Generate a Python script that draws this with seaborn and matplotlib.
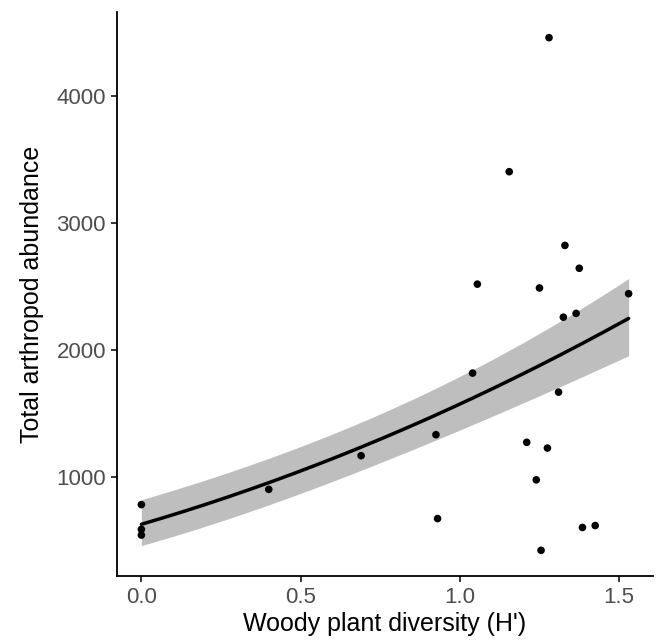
import numpy as np
import pandas as pd
import matplotlib
matplotlib.use("Agg")
import matplotlib.pyplot as plt
import seaborn as sns

# observed sites: woody plant diversity vs arthropod counts
diversity = [0.0, 0.0, 0.0, 0.40, 0.69, 0.925, 0.93, 1.04, 1.055, 1.155, 1.21, 1.24,
             1.25, 1.255, 1.275, 1.28, 1.31, 1.325, 1.33, 1.365, 1.375, 1.385, 1.425, 1.53]
abundance = [785, 590, 545, 905, 1170, 1335, 675, 1820, 2520, 3405, 1275, 980,
             2490, 425, 1230, 4460, 1670, 2260, 2825, 2290, 2645, 605, 620, 2445]

# fitted GLM (sqrt link), coefficients and covariance on the link scale
coef = [25.1, 14.6]
vcov = [[3.374, -1.773], [-1.773, 2.015]]

x_ticks = [0.0, 0.5, 1.0, 1.5]
y_ticks = [1000, 2000, 3000, 4000]

sns.set_style("ticks")
plt.rcParams["font.family"] = ["Liberation Sans", "DejaVu Sans"]

df = pd.DataFrame({"diversity": diversity, "abundance": abundance})

# prediction over the observed range
xs = np.linspace(min(diversity), max(diversity), 200)
eta = coef[0] + coef[1] * xs
se = np.sqrt(vcov[0][0] + 2 * vcov[0][1] * xs + vcov[1][1] * xs ** 2)
pred = pd.DataFrame({"diversity": xs, "fit": eta ** 2,
                     "lo": (eta - 1.96 * se) ** 2, "hi": (eta + 1.96 * se) ** 2})

fig = plt.figure(figsize=(6.57, 6.44), dpi=100)
ax = fig.add_axes([117 / 657, 68 / 644, 536 / 657, 564 / 644])

ax.fill_between(pred["diversity"], pred["lo"], pred["hi"], color="#BEBEBE", lw=0, zorder=1)
sns.lineplot(data=pred, x="diversity", y="fit", color="black", lw=2.5, ax=ax, zorder=2)
sns.scatterplot(data=df, x="diversity", y="abundance", color="black", s=30,
                edgecolor="none", ax=ax, zorder=3)

ax.set_xlim(-0.0765, 1.6065)
ax.set_ylim(223, 4662)
ax.set_xticks(x_ticks)
ax.set_xticklabels([f"{t:.1f}" for t in x_ticks])
ax.set_yticks(y_ticks)

for side in ["top", "right"]:
    ax.spines[side].set_visible(False)
for side in ["left", "bottom"]:
    ax.spines[side].set_linewidth(1.3)
    ax.spines[side].set_color("black")
ax.tick_params(direction="out", length=4, width=1.1, color="black",
               labelsize=16, labelcolor="#4D4D4D", pad=4)

ax.set_xlabel("Woody plant diversity (H')", fontsize=18, color="black", labelpad=3)
ax.set_ylabel("Total arthropod abundance", fontsize=18, color="black", labelpad=9)

fig.savefig("out.png", dpi=100)
